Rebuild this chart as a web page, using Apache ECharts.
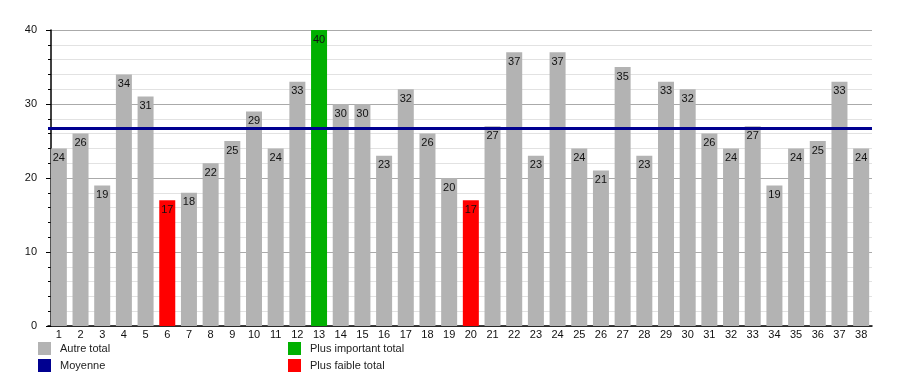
<!DOCTYPE html>
<html><head><meta charset="utf-8">
<script src="https://cdn.jsdelivr.net/npm/echarts@6/dist/echarts.min.js"></script>
<style>html,body{margin:0;padding:0;background:#fff}#c{width:900px;height:375px}</style>
</head><body><div id="c"></div>
<script>
const categories = ['1','2','3','4','5','6','7','8','9','10','11','12','13','14','15','16','17','18','19','20','21','22','23','24','25','26','27','28','29','30','31','32','33','34','35','36','37','38'];
const totals = [24,26,19,34,31,17,18,22,25,29,24,33,40,30,30,23,32,26,20,17,27,37,23,37,24,21,35,23,33,32,26,24,27,19,24,25,33,24];
const yTicks = [0,10,20,30,40];

const maxV = Math.max(...totals), minV = Math.min(...totals);
const mean = totals.reduce((a,b)=>a+b,0)/totals.length;
const other = totals.map(v => (v===maxV||v===minV) ? '-' : v);
const highest = totals.map(v => v===maxV ? v : '-');
const lowest = totals.map(v => v===minV ? v : '-');

const font = 'Liberation Sans, Arial, sans-serif';
const lbl = {show:true, position:'insideTop', distance:4, color:'#111', fontSize:11, fontFamily:font};
const legendCommon = {top:342, orient:'vertical', padding:0, itemWidth:13, itemHeight:13, itemGap:4, icon:'rect',
  height:40, textStyle:{fontSize:11, fontFamily:font, color:'#222', padding:[0,0,0,4]}};
const chart = echarts.init(document.getElementById('c'));
chart.setOption({
  animation:false,
  grid:{left:48, right:28, top:30, bottom:49},
  legend:[
    Object.assign({left:38, data:['Autre total','Moyenne']}, legendCommon),
    Object.assign({left:288, data:['Plus important total','Plus faible total']}, legendCommon)
  ],
  xAxis:{type:'category', data:categories, boundaryGap:true,
    axisLine:{lineStyle:{color:'#000', width:1.5}}, axisTick:{show:false},
    axisLabel:{color:'#111', fontSize:11, fontFamily:font, margin:3, interval:0}},
  yAxis:{type:'value', min:yTicks[0], max:yTicks[yTicks.length-1], interval:10, offset:-3,
    axisLine:{show:true, lineStyle:{color:'#000', width:1.5}},
    axisTick:{show:true, length:5, lineStyle:{color:'#000'}},
    minorTick:{show:true, splitNumber:5, length:3, lineStyle:{color:'#000'}},
    axisLabel:{color:'#111', fontSize:11, fontFamily:font, margin:14},
    splitLine:{lineStyle:{color:'#aaaaaa'}},
    minorSplitLine:{show:true, lineStyle:{color:'#e2e2e2'}}},
  series:[
    {name:'Autre total', type:'bar', stack:'t', data:other, barWidth:16, itemStyle:{color:'#b3b3b3'}, label:lbl},
    {name:'Plus important total', type:'bar', stack:'t', data:highest, barWidth:16, itemStyle:{color:'#00b000'}, label:lbl},
    {name:'Plus faible total', type:'bar', stack:'t', data:lowest, barWidth:16, itemStyle:{color:'#ff0000'}, label:lbl},
    {name:'Moyenne', type:'line', data:[], itemStyle:{color:'#000090'}, lineStyle:{color:'#000090'},
     markLine:{silent:true, symbol:'none', label:{show:false}, lineStyle:{color:'#000090', width:3, type:'solid'},
       data:[{yAxis:mean}]}}
  ]
});
</script></body></html>
